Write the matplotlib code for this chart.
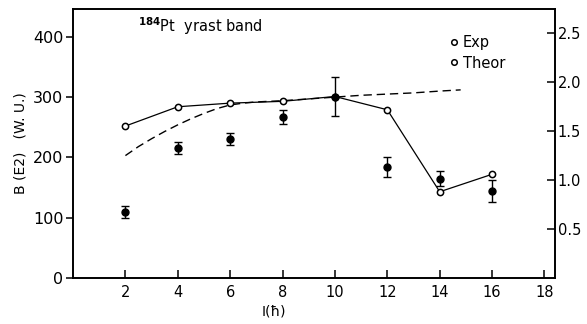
import numpy as np
import matplotlib
matplotlib.use("Agg")
import matplotlib.pyplot as plt
from matplotlib.lines import Line2D

# experimental B(E2) values (W.U.) with errors
spin = [2, 4, 6, 8, 10, 12, 14, 16]
b_exp = [110, 215, 231, 267, 301, 184, 165, 144]
b_err = [10, 10, 10, 12, 33, 17, 13, 18]

# theory (open circles, solid line)
b_theor = [252, 284, 290, 293, 301, 279, 143, 172]

# dashed curve
dash_I = [2, 2.5, 3, 3.5, 4, 4.5, 5, 5.5, 6, 6.5, 7, 8, 9, 10, 11, 12, 13, 14, 14.8]
dash_B = [203, 218, 231, 243, 254, 264, 273, 281, 287, 290, 292, 294, 297, 300, 303, 305, 307, 310, 312]

xticks = [2, 4, 6, 8, 10, 12, 14, 16, 18]
yticks = [0, 100, 200, 300, 400]
rticks = [0.5, 1.0, 1.5, 2.0, 2.5]

fig = plt.figure(figsize=(5.87, 3.24), dpi=100)
ax = fig.add_axes([0.1244, 0.142, 0.821, 0.830])

ax.plot(dash_I, dash_B, ls=(0, (6, 3.5)), color="k", lw=1.0)
ax.plot(spin, b_theor, "-", color="k", lw=0.9, marker="o", ms=4.5,
        mfc="white", mec="k", mew=1.1, zorder=3)
ax.errorbar(spin, b_exp, yerr=b_err, fmt="o", color="k", ms=5,
            capsize=3, elinewidth=1.0, capthick=1.0, zorder=4)

ax.set_xlim(0, 18.4)
ax.set_ylim(0, 446)
ax.set_xticks(xticks)
ax.set_yticks(yticks)
ax.tick_params(axis="x", direction="in", length=6, width=1.1, labelsize=10.5, pad=5)
ax.tick_params(axis="y", direction="out", length=5, width=1.1, labelsize=11.5, pad=2)
for s in ax.spines.values():
    s.set_linewidth(1.2)

ax.set_xlabel("I(ħ)", fontsize=10, labelpad=6)
ax.xaxis.set_label_coords(0.417, -0.1)
ax.set_ylabel("B (E2)   (W. U.)", fontsize=10, labelpad=4)

ax2 = ax.twinx()
ax2.set_ylim(0, 2.74)
ax2.set_yticks(rticks)
ax2.set_yticklabels(["0.5", "1.0", "1.5", "2.0", "2.5"])
ax2.tick_params(axis="y", direction="in", length=6, width=1.1, labelsize=10.5, pad=2)
for s in ax2.spines.values():
    s.set_linewidth(1.2)

ax.text(0.135, 0.935, "$^{\\mathbf{184}}$Pt  yrast band", transform=ax.transAxes,
        fontsize=10.5, ha="left", va="center")

handles = [Line2D([], [], marker="o", ls="none", mfc="white", mec="k", ms=4, mew=1.1),
           Line2D([], [], marker="o", ls="none", mfc="white", mec="k", ms=4, mew=1.1)]
ax.legend(handles, ["Exp", "Theor"], loc="upper left", bbox_to_anchor=(0.76, 0.94),
          frameon=False, handlelength=0.6, handletextpad=0.3, fontsize=10.5,
          labelspacing=0.35, borderpad=0.2)

fig.savefig("out.png", dpi=100)
